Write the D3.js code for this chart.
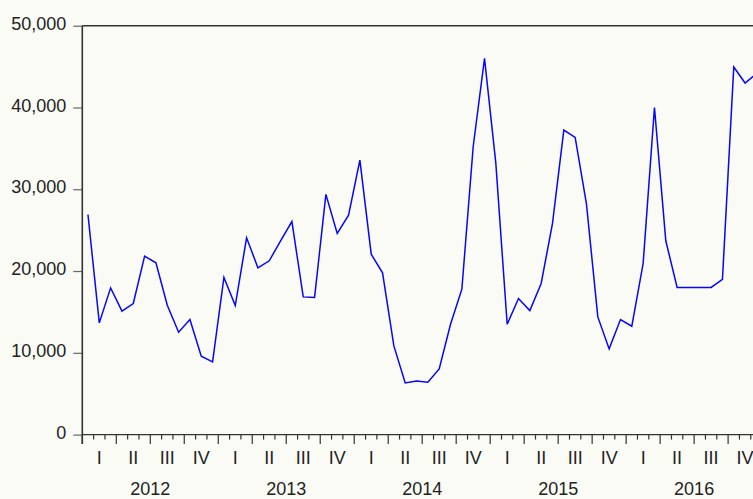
<!DOCTYPE html>
<html>
<head>
<meta charset="utf-8">
<script src="https://cdn.jsdelivr.net/npm/d3@7"></script>
<style>
  html, body { margin: 0; padding: 0; background: #fbfbf6; }
  svg { display: block; }
  text { font-family: "Liberation Sans", Arial, sans-serif; font-size: 18px; fill: #222; }
</style>
</head>
<body>
<svg id="chart" width="753" height="499"></svg>
<script>
// Monthly series, January 2012 – December 2016
const years = ["2012", "2013", "2014", "2015", "2016"];
const quarters = ["I", "II", "III", "IV"];
const yTicks = [0, 10000, 20000, 30000, 40000, 50000];
const sales = [
  26900, 13660, 17940, 15090, 16030, 21820, 21000, 15820, 12520, 14070, 9580, 8890,
  19210, 15780, 24060, 20400, 21250, 23700, 26050, 16840, 16760, 29370, 24600, 26840,
  33570, 22060, 19780, 10840, 6320, 6560, 6400, 8030, 13500, 17780, 35200, 46010,
  33160, 13500, 16640, 15170, 18480, 25820, 37240, 36340, 28180, 14390, 10480, 14070,
  13250, 20920, 40000, 23700, 17990, 18000, 18000, 18000, 18970, 44950, 42990, 44150
];

const svg = d3.select("#chart");
const plotLeft = 82.3, plotTop = 25.7, plotBottom = 434.6;
const monthW = 11.33;
const nMonths = years.length * 12;

const x = d3.scaleLinear().domain([0, nMonths]).range([plotLeft, plotLeft + nMonths * monthW]);
const y = d3.scaleLinear().domain([0, 50000]).range([plotBottom, plotTop]);

// frame: top border
svg.append("line").attr("x1", plotLeft).attr("x2", 800).attr("y1", plotTop).attr("y2", plotTop)
  .attr("stroke", "#333").attr("stroke-width", 1.6);

// y axis
const yAxis = svg.append("g").attr("transform", `translate(${plotLeft},0)`)
  .call(d3.axisLeft(y).tickValues(yTicks).tickFormat(d3.format(",")).tickSize(9).tickPadding(7));
yAxis.select(".domain").remove();
yAxis.selectAll(".tick line").attr("stroke", "#666").attr("stroke-width", 1.2);
yAxis.selectAll(".tick text").attr("dy", "0.2em").style("font-size", "18px")
  .style("font-family", '"Liberation Sans", Arial, sans-serif').attr("fill", "#222");
svg.append("line").attr("x1", plotLeft).attr("x2", plotLeft).attr("y1", plotTop).attr("y2", plotBottom + 9.5)
  .attr("stroke", "#333").attr("stroke-width", 1.6);

// x axis: monthly minor ticks, quarterly major ticks
const xg = svg.append("g");
xg.append("line").attr("x1", plotLeft).attr("x2", 800).attr("y1", plotBottom).attr("y2", plotBottom)
  .attr("stroke", "#333").attr("stroke-width", 1.4);
xg.selectAll("line.tk").data(d3.range(0, nMonths + 1)).join("line")
  .attr("class", "tk")
  .attr("x1", d => x(d)).attr("x2", d => x(d))
  .attr("y1", plotBottom).attr("y2", d => plotBottom + (d % 3 === 0 ? 9.5 : 5))
  .attr("stroke", "#333").attr("stroke-width", 1.2);

// quarter labels
const qData = [];
years.forEach((yr, yi) => quarters.forEach((q, qi) => qData.push({ label: q, m: yi * 12 + qi * 3 })));
xg.selectAll("text.q").data(qData).join("text")
  .attr("class", "q")
  .attr("x", d => x(d.m + 1.5)).attr("y", 463.5)
  .attr("text-anchor", "middle").text(d => d.label);

// year labels
xg.selectAll("text.yr").data(years).join("text")
  .attr("class", "yr")
  .attr("x", (d, i) => x(i * 12 + 6)).attr("y", 495)
  .attr("text-anchor", "middle").text(d => d);

// series line, points at month centres
const line = d3.line().x((d, i) => x(i + 0.5)).y(d => y(d));
svg.append("path").datum(sales)
  .attr("d", line).attr("fill", "none")
  .attr("stroke", "#0606f8").attr("stroke-width", 1.5).attr("stroke-linejoin", "miter");
</script>
</body>
</html>
